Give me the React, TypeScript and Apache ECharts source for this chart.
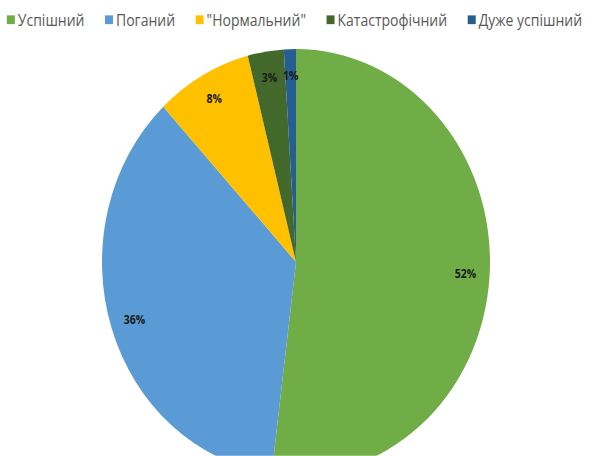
import React, { useEffect, useRef } from "react";
import * as echarts from "echarts";

const categories = ["Успішний", "Поганий", "\"Нормальний\"", "Катастрофічний", "Дуже успішний"];
const values = [52, 36, 8, 3, 1];
const colors = ["#70AD47", "#5B9BD5", "#FFC000", "#43682B", "#255E91"];

const SCALE_Y = 1.098;

export default function App() {
  const ref = useRef<HTMLDivElement>(null);
  useEffect(() => {
    if (!ref.current) return;
    const chart = echarts.init(ref.current, null, { renderer: "svg" });
    const data = categories.map((name, i) => ({ name, value: values[i] }));
    const R = 194;
    chart.setOption({
      animation: false,
      color: colors,
      legend: {
        data: categories,
        top: 6,
        left: "center",
        itemWidth: 8,
        itemHeight: 8,
        itemGap: 20.5,
        icon: "rect",
        textStyle: { fontFamily: "Open Sans", fontSize: 14, color: "#595959", padding: [0, 0, 0, -2] },
      },
      series: [
        {
          type: "pie",
          center: [296, 238.6],
          radius: [0, R],
          startAngle: 90,
          clockwise: true,
          data,
          label: { show: false },
          labelLine: { show: false },
          itemStyle: { borderWidth: 0 },
          emphasis: { disabled: true },
          silent: true,
        },
        {
          type: "pie",
          center: [296, 238.6],
          radius: [R * 0.72, R],
          startAngle: 90,
          clockwise: true,
          data,
          itemStyle: { color: "rgba(0,0,0,0)", borderWidth: 0 },
          label: {
            show: true,
            position: "inside",
            formatter: "{d}%",
            fontFamily: "Open Sans",
            fontWeight: "bold",
            fontSize: 10.5,
            color: "#1a1a1a",
          },
          labelLine: { show: false },
          emphasis: { disabled: true },
          silent: true,
        },
      ],
    });
    return () => chart.dispose();
  }, []);
  return (
    <div style={{ position: "fixed", left: 0, top: 0, width: 589, height: 456, overflow: "hidden", background: "#fff" }}>
      <div
        ref={ref}
        style={{ width: 589, height: 456 / SCALE_Y, transform: `scaleY(${SCALE_Y})`, transformOrigin: "top left" }}
      />
    </div>
  );
}
